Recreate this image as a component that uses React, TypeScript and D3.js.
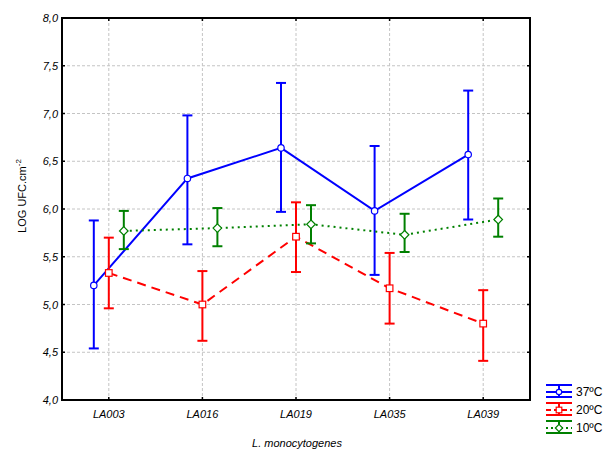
import React from "react";
import * as d3 from "d3";

const categories = ["LA003", "LA016", "LA019", "LA035", "LA039"];
const yTicks = [4.0, 4.5, 5.0, 5.5, 6.0, 6.5, 7.0, 7.5, 8.0];
const seriesNames = ["37ºC", "20ºC", "10ºC"];
const mean37 = [5.2, 6.32, 6.64, 5.98, 6.57];
const upper37 = [5.88, 6.98, 7.32, 6.66, 7.24];
const lower37 = [4.54, 5.63, 5.97, 5.31, 5.89];
const mean20 = [5.33, 5.0, 5.71, 5.17, 4.8];
const upper20 = [5.7, 5.35, 6.07, 5.54, 5.15];
const lower20 = [4.96, 4.62, 5.34, 4.8, 4.41];
const mean10 = [5.77, 5.8, 5.84, 5.73, 5.89];
const upper10 = [5.98, 6.01, 6.04, 5.95, 6.11];
const lower10 = [5.58, 5.61, 5.64, 5.55, 5.71];

const series = [
  { name: seriesNames[0], mean: mean37, upper: upper37, lower: lower37, color: "#0000ff", dash: "", marker: "circle", offset: -15 },
  { name: seriesNames[1], mean: mean20, upper: upper20, lower: lower20, color: "#ff0000", dash: "9,6", marker: "square", offset: 0 },
  { name: seriesNames[2], mean: mean10, upper: upper10, lower: lower10, color: "#008000", dash: "2,4", marker: "diamond", offset: 15 },
];

const L = 62, R = 530, T = 18, B = 400;
const font = "'Liberation Sans', Arial, sans-serif";

function Marker({ type, x, y, color, s = 1 }: { type: string; x: number; y: number; color: string; s?: number }) {
  if (type === "circle") return <circle cx={x} cy={y} r={3.2 * s} fill="#fff" stroke={color} strokeWidth={1.2} />;
  if (type === "square") return <rect x={x - 3.3 * s} y={y - 3.3 * s} width={6.6 * s} height={6.6 * s} fill="#fff" stroke={color} strokeWidth={1.2} />;
  const r = 4.3 * s;
  return <path d={`M${x},${y - r}L${x + r},${y}L${x},${y + r}L${x - r},${y}Z`} fill="#fff" stroke={color} strokeWidth={1.2} />;
}

export default function App() {
  const x = d3.scalePoint<string>().domain(categories).range([L, R]).padding(0.5);
  const y = d3.scaleLinear().domain([4, 8]).range([B, T]);
  const fmt = (v: number) => v.toFixed(1).replace(".", ",");
  return (
    <svg width={604} height={450} style={{ position: "absolute", left: 0, top: 0 }} fontFamily={font}>
      <rect width={604} height={450} fill="#fff" />
      {/* grid */}
      {yTicks.slice(1, -1).map((t) => (
        <line key={"gy" + t} x1={L} x2={R} y1={y(t)} y2={y(t)} stroke="#c4c4c4" strokeDasharray="3,2" strokeWidth={1} />
      ))}
      {categories.map((c) => (
        <line key={"gx" + c} x1={x(c)} x2={x(c)} y1={T} y2={B} stroke="#c4c4c4" strokeDasharray="3,2" strokeWidth={1} />
      ))}
      {/* ticks inward */}
      {yTicks.map((t) => (
        <g key={"ty" + t}>
          <line x1={L} x2={L + 3} y1={y(t)} y2={y(t)} stroke="#000" strokeWidth={1.5} />
          <line x1={R - 3} x2={R} y1={y(t)} y2={y(t)} stroke="#000" strokeWidth={1.5} />
          <text x={58} y={y(t) + 4} textAnchor="end" fontSize={11} fontStyle="italic">{fmt(t)}</text>
        </g>
      ))}
      {categories.map((c) => (
        <g key={"tx" + c}>
          <line x1={x(c)} x2={x(c)} y1={B} y2={B - 3} stroke="#000" strokeWidth={1.5} />
          <line x1={x(c)} x2={x(c)} y1={T} y2={T + 3} stroke="#000" strokeWidth={1.5} />
          <text x={x(c)} y={418} textAnchor="middle" fontSize={11} fontStyle="italic">{c}</text>
        </g>
      ))}
      {/* frame */}
      <rect x={L} y={T} width={R - L} height={B - T} fill="none" stroke="#000" strokeWidth={2} />
      {/* series */}
      {series.map((s) => {
        const line = d3.line<number>().x((_, i) => (x(categories[i]) as number) + s.offset).y((d) => y(d));
        return (
          <g key={s.name}>
            <path d={line(s.mean) || ""} fill="none" stroke={s.color} strokeWidth={2} strokeDasharray={s.dash} />
            {s.mean.map((m, i) => {
              const cx = (x(categories[i]) as number) + s.offset;
              return (
                <g key={i}>
                  <line x1={cx} x2={cx} y1={y(s.upper[i])} y2={y(s.lower[i])} stroke={s.color} strokeWidth={2} />
                  <line x1={cx - 5} x2={cx + 5} y1={y(s.upper[i])} y2={y(s.upper[i])} stroke={s.color} strokeWidth={2} />
                  <line x1={cx - 5} x2={cx + 5} y1={y(s.lower[i])} y2={y(s.lower[i])} stroke={s.color} strokeWidth={2} />
                  <Marker type={s.marker} x={cx} y={y(m)} color={s.color} />
                </g>
              );
            })}
          </g>
        );
      })}
      {/* axis titles */}
      <text transform="translate(26,196) rotate(-90)" textAnchor="middle" fontSize={11}>
        LOG UFC.cm<tspan dy={-5} fontSize={8}>-2</tspan>
      </text>
      <text x={297} y={447} textAnchor="middle" fontSize={11} fontStyle="italic">L. monocytogenes</text>
      {/* legend */}
      {series.map((s, i) => {
        const cy = 392 + i * 18;
        return (
          <g key={"lg" + s.name}>
            <line x1={546} x2={572} y1={cy - 7} y2={cy - 7} stroke={s.color} strokeWidth={2} />
            <line x1={546} x2={572} y1={cy + 5} y2={cy + 5} stroke={s.color} strokeWidth={2} />
            <line x1={559} x2={559} y1={cy - 7} y2={cy + 5} stroke={s.color} strokeWidth={2} />
            <line x1={546} x2={572} y1={cy} y2={cy} stroke={s.color} strokeWidth={2} strokeDasharray={s.dash ? (s.dash === "2,4" ? "2,3" : "5,3") : ""} />
            <Marker type={s.marker} x={559} y={cy} color={s.color} s={0.85} />
            <text x={576} y={cy + 4} fontSize={12}>{s.name}</text>
          </g>
        );
      })}
    </svg>
  );
}
